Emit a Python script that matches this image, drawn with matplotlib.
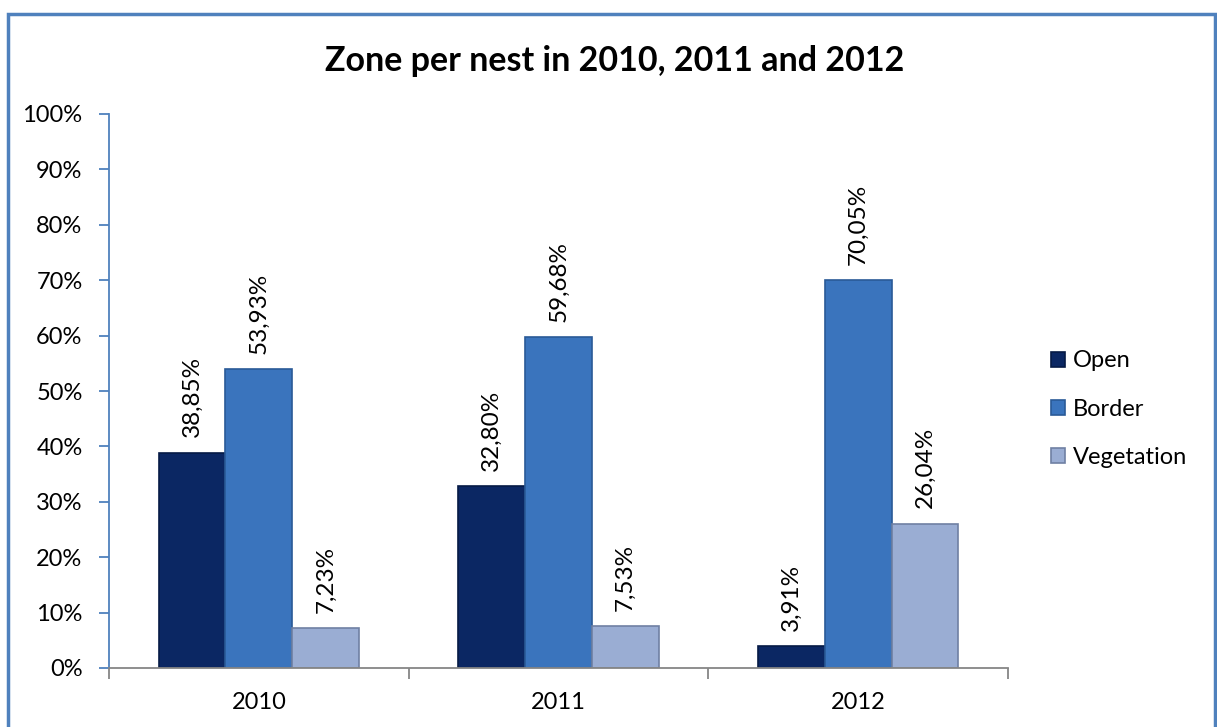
import numpy as np
import matplotlib
matplotlib.use('Agg')
import matplotlib.pyplot as plt
from matplotlib.patches import Rectangle

# Dati
anni = ['2010', '2011', '2012']
serie = ['Open', 'Border', 'Vegetation']
open_ = [38.85, 32.80, 3.91]
border = [53.93, 59.68, 70.05]
vegetation = [7.23, 7.53, 26.04]

colori = ['#0b2763', '#3a74bd', '#9aadd3']
bordi = ['#061a45', '#2a5a97', '#6f80a3']

plt.rcParams['font.family'] = ['Lato', 'DejaVu Sans']

fig = plt.figure(figsize=(12.17, 7.27), dpi=100)
ax = fig.add_axes([109/1217, 1 - 668/727, (1008 - 109)/1217, (668 - 114)/727])

x = np.arange(len(anni))
w = 0.223
for k, (vals, nome) in enumerate(zip([open_, border, vegetation], serie)):
    pos = x + (k - 1) * w
    ax.bar(pos, np.array(vals) / 100, width=w, color=colori[k],
           edgecolor=bordi[k], linewidth=1.2, label=nome)
    for xp, v in zip(pos, vals):
        ax.annotate(('%.2f%%' % v).replace('.', ','), (xp, v / 100),
                    xytext=(0, 11), textcoords='offset points',
                    rotation=90, ha='center', va='bottom', fontsize=17.5)

ax.set_xlim(-0.5, 2.5)
ax.set_ylim(0, 1)
ax.set_yticks(np.arange(0, 1.01, 0.1))
ax.set_yticklabels(['%d%%' % (v * 10) for v in range(11)], fontsize=17)
ax.set_xticks(x)
ax.set_xticklabels(anni, fontsize=17)
ax.set_xticks([-0.5, 0.5, 1.5, 2.5], minor=True)
ax.tick_params(axis='x', which='major', length=0, pad=17)
ax.tick_params(axis='x', which='minor', length=8, color='#868686', width=1.3)
ax.tick_params(axis='y', length=7, color='#4f81bd', width=1.3, pad=12)

for s in ['top', 'right']:
    ax.spines[s].set_visible(False)
ax.spines['left'].set_color('#4f81bd')
ax.spines['left'].set_linewidth(1.3)
ax.spines['bottom'].set_color('#868686')
ax.spines['bottom'].set_linewidth(1.3)

fig.text(615/1217, 1 - 61/727, 'Zone per nest in 2010, 2011 and 2012',
         ha='center', va='center', fontsize=24.5, fontweight='bold')

fig.legend(loc='center left', bbox_to_anchor=(1030/1217, 1 - 409/727),
           frameon=False, fontsize=17, handlelength=0.6, handleheight=0.6,
           handletextpad=0.3, labelspacing=1.15)

# Cornice del grafico
fig.patches.append(Rectangle((8/1217, -0.05), 1207/1217, 1.05 - 14/727,
                             transform=fig.transFigure, fill=False,
                             edgecolor='#4f81bd', linewidth=2.5))

fig.savefig('out.png', dpi=100)
